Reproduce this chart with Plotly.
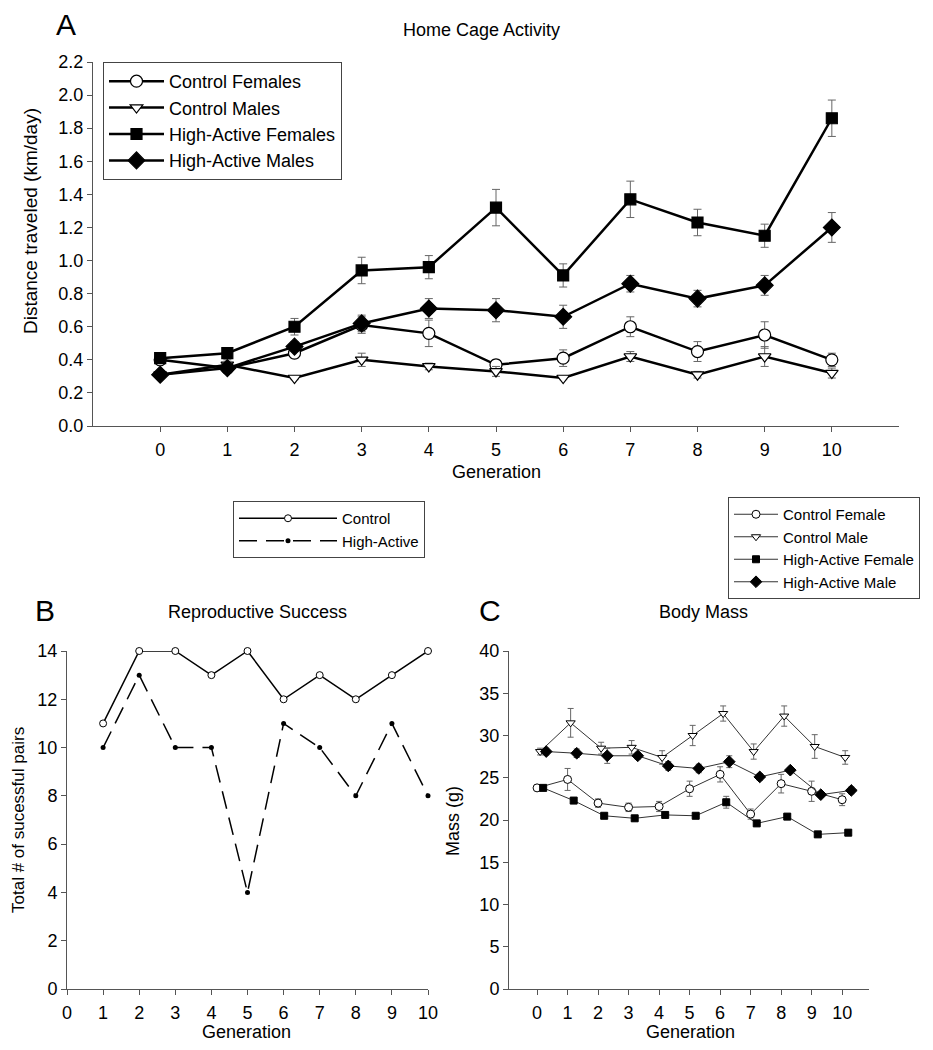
import plotly.graph_objects as go

FONT = "Arial, 'Liberation Sans', sans-serif"
# the page body has an 8px margin, so the figure is drawn 8px in from the window edge
OFF = 8
W, H = 933 - 2 * OFF, 1050 - 2 * OFF

# ---- data -----------------------------------------------------------
generation = list(range(11))

# A: home cage activity (km/day), mean and SE
act_ctrl_f = [0.40, 0.35, 0.44, 0.61, 0.56, 0.37, 0.41, 0.60, 0.45, 0.55, 0.40]
act_ctrl_f_err = [0.01, 0.03, 0.03, 0.05, 0.08, 0.03, 0.05, 0.06, 0.06, 0.08, 0.04]
act_ctrl_m = [0.31, 0.37, 0.29, 0.40, 0.36, 0.33, 0.29, 0.42, 0.31, 0.42, 0.32]
act_ctrl_m_err = [0.01, 0.03, 0.01, 0.04, 0.02, 0.03, 0.01, 0.03, 0.02, 0.06, 0.03]
act_ha_f = [0.41, 0.44, 0.60, 0.94, 0.96, 1.32, 0.91, 1.37, 1.23, 1.15, 1.86]
act_ha_f_err = [0.02, 0.02, 0.05, 0.08, 0.07, 0.11, 0.07, 0.11, 0.08, 0.07, 0.11]
act_ha_m = [0.31, 0.35, 0.48, 0.62, 0.71, 0.70, 0.66, 0.86, 0.77, 0.85, 1.20]
act_ha_m_err = [0.01, 0.02, 0.03, 0.05, 0.06, 0.07, 0.07, 0.05, 0.05, 0.06, 0.09]

# B: reproductive success
repro_gen = list(range(1, 11))
pairs_ctrl = [11, 14, 14, 13, 14, 12, 13, 12, 13, 14]
pairs_ha = [10, 13, 10, 10, 4, 11, 10, 8, 11, 8]

# C: body mass (g)
mass_ctrl_f = [23.8, 24.8, 22.0, 21.5, 21.6, 23.7, 25.4, 20.7, 24.3, 23.4, 22.4]
mass_ctrl_f_err = [0.3, 1.3, 0.5, 0.5, 0.6, 0.9, 0.9, 0.6, 1.1, 1.2, 0.7]
mass_ctrl_m = [28.1, 31.5, 28.5, 28.6, 27.4, 30.0, 32.6, 28.1, 32.3, 28.7, 27.4]
mass_ctrl_m_err = [0.4, 1.7, 0.7, 0.8, 0.8, 1.2, 0.9, 0.9, 1.2, 1.4, 0.8]
mass_ha_f = [23.8, 22.3, 20.5, 20.2, 20.6, 20.5, 22.1, 19.6, 20.4, 18.3, 18.5]
mass_ha_f_err = [0.3, 0.3, 0.3, 0.3, 0.3, 0.3, 0.7, 0.3, 0.3, 0.3, 0.3]
mass_ha_m = [28.1, 27.9, 27.6, 27.6, 26.4, 26.1, 26.9, 25.1, 25.9, 23.0, 23.5]
mass_ha_m_err = [0.4, 0.5, 0.9, 0.4, 0.5, 0.5, 0.7, 0.4, 0.3, 0.3, 0.4]

# small horizontal jitter used in panel C so the series don't overlap
c_offset = {'cf': 0.0, 'cm': 0.1, 'hf': 0.2, 'hm': 0.3}


def px_x(p):
    return (p - OFF) / W


def px_y(p):
    return 1 - (p - OFF) / H


def err(arr, width=4):
    return dict(type='data', array=arr, visible=True, color='#666666',
                thickness=1, width=width)


fig = go.Figure()

# ---- panel A --------------------------------------------------------
a_series = [
    ('Control Females', act_ctrl_f, act_ctrl_f_err, 'circle', 'white', 12),
    ('Control Males', act_ctrl_m, act_ctrl_m_err, 'triangle-down', 'white', 11),
    ('High-Active Females', act_ha_f, act_ha_f_err, 'square', 'black', 11),
    ('High-Active Males', act_ha_m, act_ha_m_err, 'diamond', 'black', 13),
]
for name, y, e, sym, fill, size in a_series:
    fig.add_scatter(x=generation, y=y, error_y=err(e), name=name, mode='lines+markers',
                    line=dict(color='black', width=2.5),
                    marker=dict(symbol=sym, color=fill, size=size,
                                line=dict(color='black', width=1.2)),
                    xaxis='x', yaxis='y', legend='legend', cliponaxis=False)

# ---- panel B --------------------------------------------------------
fig.add_scatter(x=repro_gen, y=pairs_ctrl, name='Control', mode='lines+markers',
                line=dict(color='black', width=1.5),
                marker=dict(symbol='circle', color='white', size=7,
                            line=dict(color='black', width=1)),
                xaxis='x2', yaxis='y2', legend='legend2', cliponaxis=False)
fig.add_scatter(x=repro_gen, y=pairs_ha, name='High-Active', mode='lines+markers',
                line=dict(color='black', width=1.5, dash='18px,9px'),
                marker=dict(symbol='circle', color='black', size=5),
                xaxis='x2', yaxis='y2', legend='legend2', cliponaxis=False)

# ---- panel C --------------------------------------------------------
c_series = [
    ('Control Female', 'cf', mass_ctrl_f, mass_ctrl_f_err, 'circle', 'white', 8),
    ('Control Male', 'cm', mass_ctrl_m, mass_ctrl_m_err, 'triangle-down', 'white', 8),
    ('High-Active Female', 'hf', mass_ha_f, mass_ha_f_err, 'square', 'black', 7),
    ('High-Active Male', 'hm', mass_ha_m, mass_ha_m_err, 'diamond', 'black', 9),
]
for name, key, y, e, sym, fill, size in c_series:
    fig.add_scatter(x=[g + c_offset[key] for g in generation], y=y, error_y=err(e, 3),
                    name=name, mode='lines+markers',
                    line=dict(color='#333333', width=1),
                    marker=dict(symbol=sym, color=fill, size=size,
                                line=dict(color='black', width=1)),
                    xaxis='x3', yaxis='y3', legend='legend3', cliponaxis=False)

# ---- layout ---------------------------------------------------------
axis_style = dict(showline=True, linecolor='#555555', linewidth=1, ticks='outside',
                  ticklen=5, tickcolor='#555555', showgrid=False, zeroline=False,
                  automargin=False, tickfont=dict(size=18, color='black'))

fig.update_layout(
    template='none',
    width=W, height=H, margin=dict(l=0, r=0, t=0, b=0, pad=0),
    paper_bgcolor='white', plot_bgcolor='white',
    font=dict(family=FONT, color='black'),
    xaxis=dict(axis_style, domain=[px_x(93), px_x(899)], range=[-1, 11],
               tickvals=generation, anchor='y', ticklabelstandoff=2),
    yaxis=dict(axis_style, domain=[px_y(426), px_y(62)], range=[0, 2.2],
               dtick=0.2, tickformat='.1f', anchor='x'),
    xaxis2=dict(axis_style, domain=[px_x(67), px_x(428)], range=[0, 10],
                dtick=1, anchor='y2', ticklabelstandoff=2),
    yaxis2=dict(axis_style, domain=[px_y(989), px_y(651)], range=[0, 14],
                dtick=2, anchor='x2'),
    xaxis3=dict(axis_style, domain=[px_x(509), px_x(869)], range=[-0.92, 10.88],
                tickvals=generation, anchor='y3', ticklabelstandoff=2),
    yaxis3=dict(axis_style, domain=[px_y(989), px_y(651)], range=[0, 40],
                dtick=5, anchor='x3'),
    legend=dict(x=px_x(103), y=px_y(62), xanchor='left', yanchor='top',
                font=dict(size=18), itemwidth=55, bgcolor='white',
                bordercolor='#444444', borderwidth=1, tracegroupgap=0),
    legend2=dict(x=px_x(233), y=px_y(501), xanchor='left', yanchor='top',
                 font=dict(size=15), itemwidth=98, bgcolor='white',
                 bordercolor='#444444', borderwidth=1),
    legend3=dict(x=px_x(728), y=px_y(497), xanchor='left', yanchor='top',
                 font=dict(size=15), itemwidth=44, bgcolor='white',
                 bordercolor='#444444', borderwidth=1),
    showlegend=True,
)

texts = [
    # text, x px, y px, size, angle
    ('A', 66, 24, 30, 0),
    ('Home Cage Activity', 481, 30, 18, 0),
    ('Distance traveled (km/day)', 30, 221, 19, -90),
    ('Generation', 496, 472, 18, 0),
    ('B', 45, 610, 30, 0),
    ('Reproductive Success', 257, 612, 18, 0),
    ('Total # of sucessful pairs', 18, 820, 17, -90),
    ('Generation', 247, 1032, 18, 0),
    ('C', 490, 610, 30, 0),
    ('Body Mass', 703, 612, 18, 0),
    ('Mass (g)', 453, 821, 18, -90),
    ('Generation', 690, 1032, 18, 0),
]
fig.update_layout(annotations=[
    dict(text=t, x=px_x(x), y=px_y(y), xref='paper', yref='paper', showarrow=False,
         xanchor='center', yanchor='middle', textangle=a, font=dict(size=s))
    for t, x, y, s, a in texts
])

fig.write_html("out.html")
